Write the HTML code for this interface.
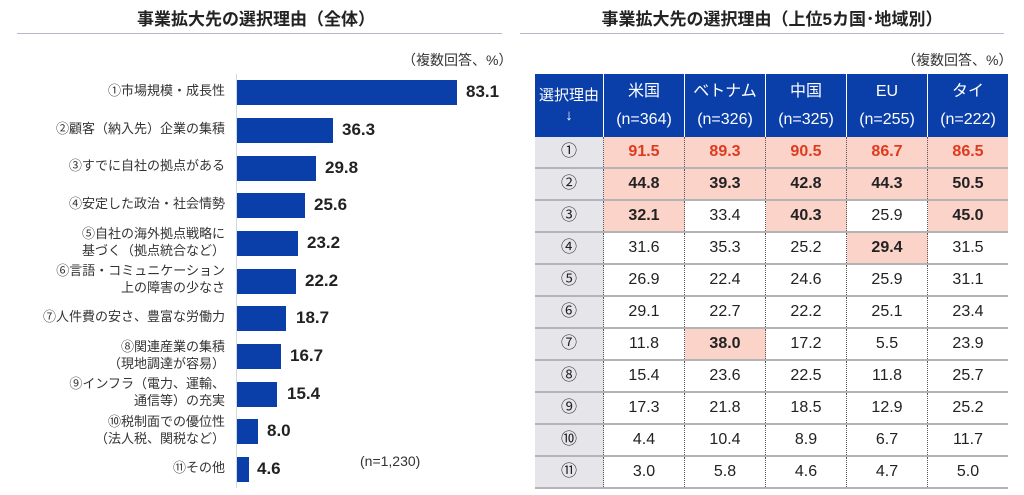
<!DOCTYPE html>
<html><head><meta charset="utf-8"><style>
body{margin:0;width:1024px;height:495px;background:#fff;position:relative;overflow:hidden;font-family:"Liberation Sans","Noto Sans CJK JP",sans-serif;color:#222}
.a{position:absolute}
.t{font-weight:bold;font-size:17px;text-align:center;color:#222}
.lbl{position:absolute;right:799px;font-size:13px;text-align:right;line-height:17px;white-space:nowrap;color:#333}
.bar{position:absolute;left:237px;height:25px;background:#0a3ea8}
.val{position:absolute;font-weight:bold;font-size:17px;color:#222}
table{position:absolute;left:535px;top:74px;border-collapse:collapse;font-size:16px;table-layout:fixed}
td{height:30px;line-height:30px;text-align:center;border-bottom:2px solid #b4b4b8;border-left:1px dotted #555;padding:0;color:#222}
td:first-child{background:#e6e6ea;border-left:none;width:68px}
th{background:#0a3ea8;color:#fff;font-weight:normal;font-size:16px;height:63px;line-height:28px;border-left:1px solid #fff;width:80px;padding:0}
th:first-child{border-left:none;width:68px;font-size:15px;line-height:20px}
.p{background:#fbd3c9}.b{font-weight:bold}.r{color:#e03a1e;font-weight:bold}
</style></head><body>
<div class="a t" style="left:0;width:512px;top:5px">事業拡大先の選択理由（全体）</div>
<div class="a" style="left:17px;top:33px;width:485px;height:1px;background:#b8b8cc"></div>
<div class="a" style="left:402px;top:50px;font-size:14px;color:#333">（複数回答、%）</div>
<div class="a" style="left:236px;top:74px;width:1px;height:414px;background:#cfd6e6"></div>

<div class="lbl" style="top:82px">①市場規模・成長性</div>
<div class="bar" style="top:80px;width:220px"></div><div class="val" style="left:466px;top:82px">83.1</div>
<div class="lbl" style="top:120px">②顧客（納入先）企業の集積</div>
<div class="bar" style="top:118px;width:96px"></div><div class="val" style="left:342px;top:120px">36.3</div>
<div class="lbl" style="top:157px">③すでに自社の拠点がある</div>
<div class="bar" style="top:156px;width:79px"></div><div class="val" style="left:325px;top:158px">29.8</div>
<div class="lbl" style="top:195px">④安定した政治・社会情勢</div>
<div class="bar" style="top:193px;width:68px"></div><div class="val" style="left:314px;top:195px">25.6</div>
<div class="lbl" style="top:225px">⑤自社の海外拠点戦略に<br>基づく（拠点統合など）</div>
<div class="bar" style="top:231px;width:61px"></div><div class="val" style="left:307px;top:233px">23.2</div>
<div class="lbl" style="top:262px">⑥言語・コミュニケーション<br>上の障害の少なさ</div>
<div class="bar" style="top:269px;width:59px"></div><div class="val" style="left:305px;top:271px">22.2</div>
<div class="lbl" style="top:308px">⑦人件費の安さ、豊富な労働力</div>
<div class="bar" style="top:306px;width:49px"></div><div class="val" style="left:296px;top:308px">18.7</div>
<div class="lbl" style="top:338px">⑧関連産業の集積<br>（現地調達が容易）</div>
<div class="bar" style="top:344px;width:44px"></div><div class="val" style="left:290px;top:346px">16.7</div>
<div class="lbl" style="top:375px">⑨インフラ（電力、運輸、<br>通信等）の充実</div>
<div class="bar" style="top:382px;width:40px"></div><div class="val" style="left:287px;top:384px">15.4</div>
<div class="lbl" style="top:413px">⑩税制面での優位性<br>（法人税、関税など）</div>
<div class="bar" style="top:419px;width:21px"></div><div class="val" style="left:267px;top:421px">8.0</div>
<div class="lbl" style="top:459px">⑪その他</div>
<div class="bar" style="top:457px;width:12px"></div><div class="val" style="left:257px;top:459px">4.6</div>
<div class="a" style="left:360px;top:453px;font-size:14px;color:#333">(n=1,230)</div>

<div class="a t" style="left:520px;width:504px;top:5px">事業拡大先の選択理由（上位5カ国･地域別）</div>
<div class="a" style="left:520px;top:33px;width:484px;height:1px;background:#b8b8cc"></div>
<div class="a" style="left:902px;top:50px;font-size:14px;color:#333">（複数回答、%）</div>
<table>
<colgroup><col style="width:68px"><col style="width:80px"><col style="width:80px"><col style="width:80px"><col style="width:80px"><col style="width:80px"></colgroup>
<tr><th>選択理由<br>↓</th><th>米国<br>(n=364)</th><th>ベトナム<br>(n=326)</th><th>中国<br>(n=325)</th><th>EU<br>(n=255)</th><th>タイ<br>(n=222)</th></tr>
<tr><td>①</td><td class="p r">91.5</td><td class="p r">89.3</td><td class="p r">90.5</td><td class="p r">86.7</td><td class="p r">86.5</td></tr>
<tr><td>②</td><td class="p b">44.8</td><td class="p b">39.3</td><td class="p b">42.8</td><td class="p b">44.3</td><td class="p b">50.5</td></tr>
<tr><td>③</td><td class="p b">32.1</td><td>33.4</td><td class="p b">40.3</td><td>25.9</td><td class="p b">45.0</td></tr>
<tr><td>④</td><td>31.6</td><td>35.3</td><td>25.2</td><td class="p b">29.4</td><td>31.5</td></tr>
<tr><td>⑤</td><td>26.9</td><td>22.4</td><td>24.6</td><td>25.9</td><td>31.1</td></tr>
<tr><td>⑥</td><td>29.1</td><td>22.7</td><td>22.2</td><td>25.1</td><td>23.4</td></tr>
<tr><td>⑦</td><td>11.8</td><td class="p b">38.0</td><td>17.2</td><td>5.5</td><td>23.9</td></tr>
<tr><td>⑧</td><td>15.4</td><td>23.6</td><td>22.5</td><td>11.8</td><td>25.7</td></tr>
<tr><td>⑨</td><td>17.3</td><td>21.8</td><td>18.5</td><td>12.9</td><td>25.2</td></tr>
<tr><td>⑩</td><td>4.4</td><td>10.4</td><td>8.9</td><td>6.7</td><td>11.7</td></tr>
<tr><td>⑪</td><td>3.0</td><td>5.8</td><td>4.6</td><td>4.7</td><td>5.0</td></tr>
</table>
</body></html>
